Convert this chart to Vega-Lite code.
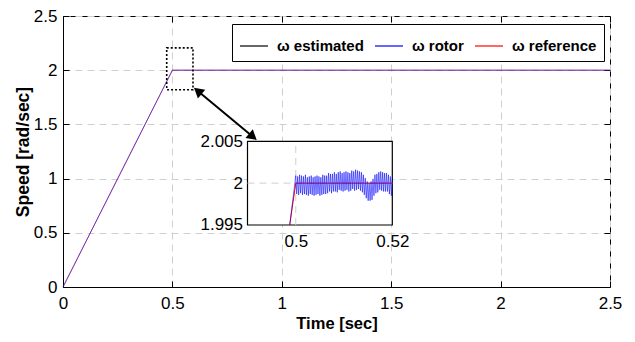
{
  "$schema": "https://vega.github.io/schema/vega-lite/v6.json",
  "width": 547,
  "height": 271,
  "autosize": {"type": "none"},
  "padding": {"left": 63, "top": 16, "right": 25, "bottom": 55},
  "background": "white",
  "config": {
    "view": {"stroke": "black", "strokeWidth": 1},
    "axis": {
      "labelFont": "Liberation Sans, Arial, sans-serif",
      "labelFontSize": 17,
      "labelColor": "black",
      "titleFont": "Liberation Sans, Arial, sans-serif",
      "titleFontSize": 16.5,
      "titleFontWeight": "bold",
      "titleColor": "black",
      "domainColor": "black",
      "tickColor": "black",
      "gridColor": "#cfcfcf",
      "gridDash": [7, 5],
      "labelFlush": false,
      "labelOverlap": false,
      "format": "~g"
    }
  },
  "datasets": {
    "main": [
      {"series": "ω estimated", "t": 0, "v": 0},
      {"series": "ω estimated", "t": 0.5, "v": 2},
      {"series": "ω estimated", "t": 2.5, "v": 2},
      {"series": "ω reference", "t": 0, "v": 0},
      {"series": "ω reference", "t": 0.5, "v": 2},
      {"series": "ω reference", "t": 2.5, "v": 2},
      {"series": "ω rotor", "t": 0, "v": 0},
      {"series": "ω rotor", "t": 0.5, "v": 2},
      {"series": "ω rotor", "t": 2.5, "v": 2}
    ],
    "inset_ref": [
      {"t": 0.49875, "v": 1.995},
      {"t": 0.5, "v": 2.0},
      {"t": 0.52, "v": 2.0}
    ],
    "inset_rotor": [
      {"t": 0.49875, "v": 1.995},
      {"t": 0.5000, "v": 2.0009}, {"t": 0.5002, "v": 1.9987}, {"t": 0.5004, "v": 2.0008}, {"t": 0.5006, "v": 1.9986},
      {"t": 0.5008, "v": 2.0010}, {"t": 0.5010, "v": 1.9988}, {"t": 0.5012, "v": 2.0009}, {"t": 0.5014, "v": 1.9986},
      {"t": 0.5016, "v": 2.0008}, {"t": 0.5018, "v": 1.9987}, {"t": 0.5020, "v": 2.0010}, {"t": 0.5022, "v": 1.9986},
      {"t": 0.5024, "v": 2.0007}, {"t": 0.5026, "v": 1.9985}, {"t": 0.5028, "v": 2.0008}, {"t": 0.5030, "v": 1.9987},
      {"t": 0.5032, "v": 2.0009}, {"t": 0.5034, "v": 1.9986}, {"t": 0.5036, "v": 2.0007}, {"t": 0.5038, "v": 1.9985},
      {"t": 0.5040, "v": 2.0008}, {"t": 0.5042, "v": 1.9986}, {"t": 0.5044, "v": 2.0009}, {"t": 0.5046, "v": 1.9987},
      {"t": 0.5048, "v": 2.0008}, {"t": 0.5050, "v": 1.9985}, {"t": 0.5052, "v": 2.0007}, {"t": 0.5054, "v": 1.9986},
      {"t": 0.5056, "v": 2.0010}, {"t": 0.5058, "v": 1.9987}, {"t": 0.5060, "v": 2.0009}, {"t": 0.5062, "v": 1.9987},
      {"t": 0.5064, "v": 2.0009}, {"t": 0.5066, "v": 1.9988}, {"t": 0.5068, "v": 2.0012}, {"t": 0.5070, "v": 1.9990},
      {"t": 0.5072, "v": 2.0011}, {"t": 0.5074, "v": 1.9988}, {"t": 0.5076, "v": 2.0011}, {"t": 0.5078, "v": 1.9990},
      {"t": 0.5080, "v": 2.0013}, {"t": 0.5082, "v": 1.9990}, {"t": 0.5084, "v": 2.0011}, {"t": 0.5086, "v": 1.9989},
      {"t": 0.5088, "v": 2.0013}, {"t": 0.5090, "v": 1.9992}, {"t": 0.5092, "v": 2.0014}, {"t": 0.5094, "v": 1.9991},
      {"t": 0.5096, "v": 2.0012}, {"t": 0.5098, "v": 1.9990}, {"t": 0.5100, "v": 2.0013}, {"t": 0.5102, "v": 1.9991},
      {"t": 0.5104, "v": 2.0014}, {"t": 0.5106, "v": 1.9992}, {"t": 0.5108, "v": 2.0013}, {"t": 0.5110, "v": 1.9990},
      {"t": 0.5112, "v": 2.0012}, {"t": 0.5114, "v": 1.9991}, {"t": 0.5116, "v": 2.0015}, {"t": 0.5118, "v": 1.9993},
      {"t": 0.5120, "v": 2.0014}, {"t": 0.5122, "v": 1.9991}, {"t": 0.5124, "v": 2.0016}, {"t": 0.5126, "v": 1.9992},
      {"t": 0.5128, "v": 2.0015}, {"t": 0.5130, "v": 1.9993}, {"t": 0.5132, "v": 2.0014}, {"t": 0.5134, "v": 1.9991},
      {"t": 0.5136, "v": 2.0013}, {"t": 0.5138, "v": 1.9989}, {"t": 0.5140, "v": 2.0010}, {"t": 0.5142, "v": 1.9986},
      {"t": 0.5144, "v": 2.0006}, {"t": 0.5146, "v": 1.9982}, {"t": 0.5148, "v": 2.0002}, {"t": 0.5150, "v": 1.9979},
      {"t": 0.5152, "v": 2.0000}, {"t": 0.5154, "v": 1.9979}, {"t": 0.5156, "v": 2.0002}, {"t": 0.5158, "v": 1.9980},
      {"t": 0.5160, "v": 2.0005}, {"t": 0.5162, "v": 1.9985}, {"t": 0.5164, "v": 2.0010}, {"t": 0.5166, "v": 1.9988},
      {"t": 0.5168, "v": 2.0011}, {"t": 0.5170, "v": 1.9989}, {"t": 0.5172, "v": 2.0013}, {"t": 0.5174, "v": 1.9992},
      {"t": 0.5176, "v": 2.0014}, {"t": 0.5178, "v": 1.9991}, {"t": 0.5180, "v": 2.0013}, {"t": 0.5182, "v": 1.9990},
      {"t": 0.5184, "v": 2.0012}, {"t": 0.5186, "v": 1.9990}, {"t": 0.5188, "v": 2.0012}, {"t": 0.5190, "v": 1.9990},
      {"t": 0.5192, "v": 2.0010}, {"t": 0.5194, "v": 1.9987}, {"t": 0.5196, "v": 2.0008}, {"t": 0.5198, "v": 1.9985},
      {"t": 0.5200, "v": 2.0005}
    ]
  },
  "layer": [
    {
      "layer": [
        {
          "data": {"name": "main"},
          "transform": [{"filter": "datum.series == 'ω estimated'"}],
          "mark": {"type": "line", "strokeWidth": 1, "opacity": 0.15},
          "encoding": {
            "x": {
              "field": "t", "type": "quantitative",
              "scale": {"domain": [0, 2.5], "nice": false},
              "axis": {
                "title": "Time [sec]",
                "values": [0, 0.5, 1, 1.5, 2, 2.5],
                "tickSize": -6,
                "labelPadding": 14,
                "titlePadding": 4,
                "grid": true
              }
            },
            "y": {
              "field": "v", "type": "quantitative",
              "scale": {"domain": [0, 2.5], "nice": false},
              "axis": {
                "title": "Speed [rad/sec]",
                "titleFontSize": 17.5,
                "values": [0, 0.5, 1, 1.5, 2, 2.5],
                "tickSize": -6,
                "labelPadding": 12,
                "titlePadding": 1,
                "grid": true
              }
            },
            "color": {
              "field": "series", "type": "nominal",
              "scale": {"domain": ["ω estimated", "ω rotor", "ω reference"], "range": ["#000000", "#0000ff", "#ff0000"]},
              "legend": {
                "title": null,
                "orient": "none",
                "legendX": 169,
                "legendY": 8,
                "direction": "horizontal",
                "symbolType": "stroke",
                "symbolSize": 784,
                "symbolStrokeWidth": 1.2,
                "symbolOpacity": 1,
                "labelFont": "Liberation Sans, Arial, sans-serif",
                "labelFontSize": 15,
                "labelFontWeight": "bold",
                "labelColor": "black",
                "labelOffset": 8,
                "columnPadding": 8,
                "padding": 7,
                "strokeColor": "black",
                "fillColor": "white",
                "encode": {"symbols": {"update": {"opacity": {"value": 1}, "strokeOpacity": {"value": 1}}}}
              }
            }
          }
        },
        {
          "data": {"name": "main"},
          "transform": [{"filter": "datum.series == 'ω reference'"}],
          "mark": {"type": "line", "strokeWidth": 1, "opacity": 0.5},
          "encoding": {
            "x": {"field": "t", "type": "quantitative"},
            "y": {"field": "v", "type": "quantitative"},
            "color": {"field": "series", "type": "nominal"}
          }
        },
        {
          "data": {"name": "main"},
          "transform": [{"filter": "datum.series == 'ω rotor'"}],
          "mark": {"type": "line", "strokeWidth": 1, "opacity": 0.5},
          "encoding": {
            "x": {"field": "t", "type": "quantitative"},
            "y": {"field": "v", "type": "quantitative"},
            "color": {"field": "series", "type": "nominal"}
          }
        },
        {
          "data": {"values": [{"t": 0.474, "t2": 0.594, "v": 1.82, "v2": 2.206}]},
          "mark": {"type": "rect", "fill": "transparent", "stroke": "black", "strokeWidth": 1.6, "strokeDash": [2, 2]},
          "encoding": {
            "x": {"field": "t", "type": "quantitative"},
            "x2": {"field": "t2"},
            "y": {"field": "v", "type": "quantitative"},
            "y2": {"field": "v2"}
          }
        },
        {
          "data": {"values": [{"t": 0.616, "t2": 0.868, "v": 1.808, "v2": 1.386}]},
          "mark": {"type": "rule", "stroke": "black", "strokeWidth": 2},
          "encoding": {
            "x": {"field": "t", "type": "quantitative"},
            "x2": {"field": "t2"},
            "y": {"field": "v", "type": "quantitative"},
            "y2": {"field": "v2"}
          }
        },
        {
          "data": {"values": [{"t": 0.616, "v": 1.808, "head": "triangle-left"}, {"t": 0.868, "v": 1.386, "head": "triangle-right"}]},
          "mark": {"type": "point", "filled": true, "color": "black", "opacity": 1, "size": 130, "angle": 39.8},
          "encoding": {
            "x": {"field": "t", "type": "quantitative"},
            "y": {"field": "v", "type": "quantitative"},
            "shape": {"field": "head", "type": "nominal", "scale": {"domain": ["triangle-left", "triangle-right"], "range": ["triangle-left", "triangle-right"]}, "legend": null}
          }
        }
      ]
    },
    {
      "data": {"values": [{"t": 0, "v": 0}]},
      "mark": {"type": "point", "opacity": 0},
      "encoding": {
        "x": {
          "field": "t", "type": "quantitative",
          "scale": {"domain": [0, 2.5], "nice": false},
          "axis": {"orient": "top", "labels": false, "title": null, "tickSize": -6, "domain": false, "grid": false, "values": [0, 0.5, 1, 1.5, 2, 2.5]}
        },
        "y": {
          "field": "v", "type": "quantitative",
          "scale": {"domain": [0, 2.5], "nice": false},
          "axis": {"orient": "right", "labels": false, "title": null, "tickSize": -6, "domain": false, "grid": false, "values": [0, 0.5, 1, 1.5, 2, 2.5]}
        }
      }
    },
    {
      "layer": [
        {
          "data": {"values": [{"t": 0.49, "t2": 0.52, "v": 1.995, "v2": 2.005}]},
          "mark": {"type": "rect", "fill": "white", "stroke": "black", "strokeWidth": 1.2},
          "encoding": {
            "x": {
              "field": "t", "type": "quantitative",
              "scale": {"domain": [0.451775, 0.565103], "nice": false, "zero": false},
              "axis": {"orient": "bottom", "offset": -62, "values": [0.5, 0.52], "domain": false, "ticks": false, "tickSize": 0, "grid": false, "title": null, "labelPadding": 8}
            },
            "x2": {"field": "t2"},
            "y": {
              "field": "v", "type": "quantitative",
              "scale": {"domain": [1.98759, 2.01997], "nice": false, "zero": false},
              "axis": {"orient": "left", "offset": -184.5, "values": [1.995, 2, 2.005], "domain": false, "ticks": false, "tickSize": 0, "grid": false, "title": null, "labelPadding": 5}
            },
            "y2": {"field": "v2"}
          }
        },
        {
          "data": {"values": [{"t": 0.5, "v": 1.995, "v2": 2.005}]},
          "mark": {"type": "rule", "stroke": "#cfcfcf", "strokeDash": [7, 5]},
          "encoding": {
            "x": {"field": "t", "type": "quantitative"},
            "y": {"field": "v", "type": "quantitative"},
            "y2": {"field": "v2"}
          }
        },
        {
          "data": {"values": [{"t": 0.49, "t2": 0.52, "v": 2.0}]},
          "mark": {"type": "rule", "stroke": "#cfcfcf", "strokeDash": [7, 5]},
          "encoding": {
            "x": {"field": "t", "type": "quantitative"},
            "x2": {"field": "t2"},
            "y": {"field": "v", "type": "quantitative"}
          }
        },
        {
          "data": {"name": "inset_ref"},
          "mark": {"type": "line", "stroke": "#ff0000", "strokeWidth": 1},
          "encoding": {
            "x": {"field": "t", "type": "quantitative"},
            "y": {"field": "v", "type": "quantitative"}
          }
        },
        {
          "data": {"name": "inset_rotor"},
          "mark": {"type": "line", "stroke": "#0000ff", "strokeWidth": 1, "opacity": 0.55},
          "encoding": {
            "x": {"field": "t", "type": "quantitative"},
            "y": {"field": "v", "type": "quantitative"}
          }
        }
      ]
    }
  ],
  "resolve": {
    "scale": {"x": "independent", "y": "independent"},
    "axis": {"x": "independent", "y": "independent"}
  }
}
